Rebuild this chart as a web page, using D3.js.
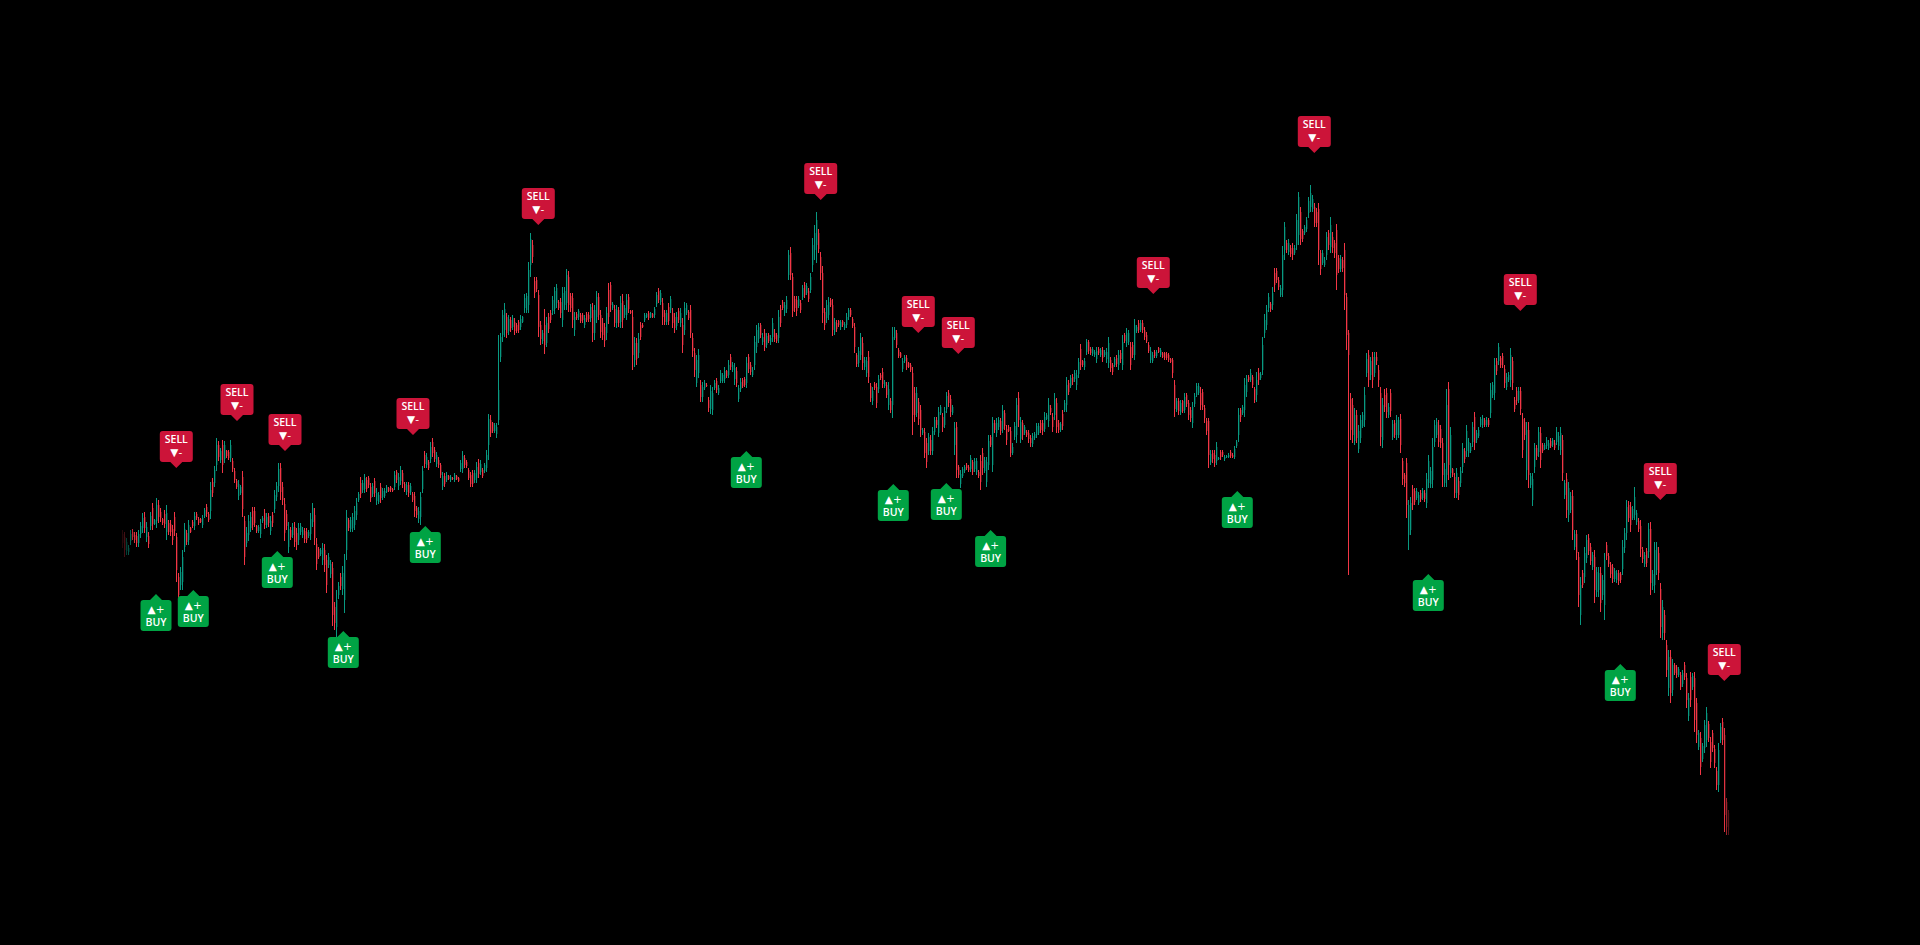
<!DOCTYPE html>
<html><head><meta charset="utf-8">
<style>html,body{margin:0;background:#000;overflow:hidden}svg{display:block}</style>
<script src="https://cdn.jsdelivr.net/npm/d3@7"></script>
</head><body>
<script>
// each row: [high, low, open, close]
const barsA=[[415,397,411,402],[413,388,408,395],[407,390,394,403],[400,390,393,397],[415,400,404,411],[416,405,413,408],[413,402,410,405],[413,398,409,402],[415,398,402,411],[423,407,411,419],
[432,412,417,427],[433,412,428,417],[423,403,408,418],[413,397,409,401],[433,415,419,429],[442,415,437,421],[426,420,421,425],[447,417,424,440],[445,422,440,428],[437,423,433,427],
[427,420,426,422],[435,417,431,421],[440,405,413,432],[425,410,422,413],[425,409,421,413],[420,400,416,405],[433,409,428,414],[412,363,408,375],[372,344,368,350],[378,355,360,373],
[395,355,363,388],[422,393,398,416],[415,400,412,403],[425,400,405,420],[418,412,417,413],[425,417,423,419],[433,415,419,429],[433,425,431,427],[428,420,426,422],[427,422,426,423],
[430,417,420,427],[437,427,429,435],[441,428,438,431],[433,423,431,425],[463,426,434,455],[467,448,463,452],[479,458,462,475],[507,474,480,500],[504,484,500,488],[497,482,485,494],
[505,472,500,480],[504,482,486,500],[495,487,494,489],[495,485,493,487],[505,483,487,500],[487,473,484,476],[477,462,474,465],[466,456,464,458],[465,445,449,461],[460,450,452,458],
[474,428,468,436],[429,380,424,388],[418,398,402,412],[430,404,410,424],[433,413,417,428],[438,415,434,420],[438,418,434,422],[420,412,419,414],[420,412,414,418],[426,407,411,421],
[429,422,424,427],[436,416,432,420],[432,417,420,428],[432,418,429,422],[429,410,414,424],[433,418,430,422],[455,432,436,450],[463,444,448,459],[482,453,459,476],[482,445,477,453],
[463,440,458,445],[447,404,441,412],[435,415,431,419],[423,392,398,416],[418,405,415,408],[422,407,410,418],[423,398,418,403],[417,395,412,400],[422,400,405,417],[422,410,413,419],
[418,407,410,415],[417,402,414,406],[417,402,413,405],[415,407,409,413],[432,405,411,426],[442,418,423,437],[437,400,430,407],[407,375,401,381],[398,386,396,388],[397,389,391,395]];
const barsB=[[402,380,385,397],[401,373,395,380],[390,352,385,360],[392,377,380,388],[385,367,371,381],[383,319,377,330],[343,315,338,322],[355,308,318,345],[363,346,350,359],[372,355,368,359],
[379,350,356,372],[391,332,345,385],[435,385,395,428],[427,414,425,417],[428,413,416,425],[432,413,417,428],[439,415,420,434],[447,425,430,442],[453,443,445,451],[468,447,462,451],
[465,452,455,462],[471,452,456,467],[468,453,465,456],[469,457,467,460],[462,443,458,447],[462,448,451,459],[467,448,464,452],[457,440,444,452],[453,441,443,450],[462,442,458,447],
[457,445,448,454],[457,447,449,454],[460,452,453,458],[458,453,457,454],[459,453,458,455],[457,453,456,454],[474,455,458,470],[475,462,473,465],[472,455,459,468],[479,460,464,475],
[475,457,472,461],[463,453,461,455],[463,450,453,460],[463,448,460,452],[462,450,453,459],[453,443,451,445],[453,428,449,434],[439,427,437,430],[438,422,426,434],[453,420,428,448],
[479,452,456,474],[494,477,490,481],[492,477,480,488],[485,475,483,477],[503,482,486,498],[507,488,503,492],[498,483,495,486],[493,478,481,490],[488,477,485,480],[482,467,480,470],
[473,455,459,469],[472,458,469,461],[473,463,465,470],[470,465,469,466],[470,463,465,468],[468,465,467,466],[472,463,465,470],[470,465,469,466],[468,463,467,464],[485,473,476,482],
[494,472,476,489],[490,477,487,480],[485,477,483,479],[477,465,475,467],[473,458,470,461],[475,458,472,461],[475,462,465,472],[483,462,467,478],[486,467,482,471],[485,470,473,481],
[477,467,475,469],[482,472,474,480],[495,473,477,490],[531,485,500,526],[530,508,525,512],[523,512,522,514],[522,512,514,520],[522,507,511,518],[610,520,525,555],[612,583,588,608],
[635,603,610,630],[642,608,615,636],[632,607,628,612],[630,610,614,626],[628,613,625,617],[630,615,618,627],[627,610,623,614],[622,612,620,614],[625,612,623,615],[630,615,618,626]];
const barsC=[[629,622,623,628],[651,632,637,647],[652,632,635,649],[683,632,640,675],[712,668,680,706],[705,682,700,688],[668,647,664,652],[668,653,665,656],[655,608,650,618],[624,600,620,606],
[615,601,604,612],[636,591,620,600],[628,598,602,622],[632,612,628,616],[635,622,632,625],[649,630,634,645],[658,631,636,654],[661,637,642,657],[645,635,643,637],[647,627,643,632],
[658,618,625,652],[658,635,640,654],[676,635,642,670],[674,633,668,640],[652,633,649,637],[652,617,647,625],[633,609,615,628],[633,625,631,627],[636,625,628,634],[632,622,630,624],
[632,622,630,625],[630,617,620,627],[633,623,631,625],[633,623,630,626],[641,623,627,638],[642,603,635,612],[640,605,612,635],[654,622,628,648],[652,625,648,630],[635,607,630,613],
[627,605,622,610],[622,598,618,604],[638,605,612,632],[662,621,655,628],[663,633,660,640],[643,635,637,641],[640,618,636,622],[640,617,622,635],[638,618,635,622],[649,617,623,642],
[651,617,644,625],[640,627,630,637],[651,625,630,645],[651,632,648,636],[635,631,634,632],[635,575,628,590],[608,578,585,602],[607,580,602,586],[612,587,592,606],[623,605,620,608],
[622,617,620,618],[632,623,625,630],[632,627,628,631],[634,625,632,627],[633,627,628,632],[632,627,631,628],[638,627,630,636],[653,638,641,650],[657,642,654,645],[655,640,643,652],
[647,620,642,628],[635,620,632,623],[635,620,623,632],[642,620,638,624],[649,632,635,646],[637,617,632,622],[632,612,628,617],[633,615,619,628],[637,622,634,625],[637,618,622,632],
[627,592,620,600],[643,610,615,637],[642,630,632,640],[635,625,633,627],[640,607,635,612],[612,588,607,594],[597,568,592,575],[590,558,562,585],[596,567,572,590],[565,543,560,548],
[563,543,548,558],[565,555,557,562],[562,558,560,559],[548,533,545,537],[560,531,536,554],[558,530,535,552],[565,555,557,562],[567,552,564,555],[560,550,552,557],[575,562,564,572]];
const barsD=[[572,562,564,570],[578,562,566,574],[575,567,574,569],[585,567,570,580],[591,575,588,578],[583,573,575,580],[582,560,566,577],[578,558,574,562],[560,543,546,557],[567,553,556,563],
[567,557,565,559],[568,558,566,560],[588,557,562,582],[591,572,588,576],[583,570,580,573],[578,568,570,575],[609,575,580,603],[620,592,598,615],[622,602,606,618],[622,607,620,610],
[612,600,603,608],[616,594,612,598],[612,597,600,609],[612,602,610,604],[610,600,603,607],[627,603,608,622],[616,603,612,606],[612,602,610,604],[635,602,607,628],[640,618,636,622],
[645,635,643,637],[643,629,632,640],[649,632,636,645],[695,665,670,690],[698,665,692,670],[672,628,668,634],[649,633,646,637],[649,629,645,634],[649,637,639,646],[645,632,642,635],
[660,645,648,657],[663,647,660,650],[662,650,652,659],[657,643,654,646],[672,652,655,668],[707,673,680,700],[720,685,695,712],[733,682,700,725],[716,692,712,696],[693,665,688,672],
[679,622,672,632],[637,615,633,620],[645,622,627,640],[648,625,630,643],[647,638,645,640],[646,609,640,615],[627,610,613,623],[625,613,622,616],[625,618,624,620],[625,615,618,623],
[625,618,624,620],[623,615,617,621],[632,617,620,628],[637,625,628,635],[637,628,635,630],[628,617,626,619],[622,592,618,598],[592,578,590,581],[598,578,582,594],[612,585,590,607],
[608,575,602,582],[588,575,578,585],[588,568,572,584],[594,562,588,568],[562,543,559,547],[558,540,544,554],[563,555,561,557],[562,537,558,542],[570,552,556,566],[572,565,570,567],
[577,557,573,561],[565,557,559,563],[563,547,560,550],[563,535,540,556],[547,532,544,535],[618,527,540,608],[618,605,607,615],[615,597,612,600],[597,587,595,589],[593,587,592,588],
[587,573,576,584],[590,582,584,588],[590,575,587,578],[583,577,582,578],[582,573,580,575],[578,510,572,530],[558,523,552,530],[558,528,532,552],[547,520,543,526],[540,508,535,515]];
const barsE=[[517,510,512,515],[517,487,513,492],[507,477,502,483],[512,490,494,508],[510,490,505,494],[518,490,494,514],[528,510,513,525],[528,517,525,520],[538,508,512,533],[540,530,532,538],
[532,513,528,518],[538,517,520,534],[553,532,536,549],[555,538,552,542],[550,528,546,533],[540,530,532,538],[523,490,500,517],[523,467,518,475],[480,467,478,470],[475,457,461,471],
[478,467,469,476],[480,472,474,478],[482,475,480,477],[480,473,478,475],[490,473,476,487],[485,470,483,473],[487,473,476,484],[487,470,473,484],[475,467,473,469],[490,455,484,463],
[497,470,492,477],[488,472,474,485],[488,458,463,483],[510,475,480,504],[510,498,508,500],[528,473,480,522],[525,512,522,515],[527,508,512,522],[528,515,518,525],[527,510,524,514],
[540,512,516,534],[535,515,532,519],[520,500,516,505],[520,513,518,514],[518,488,514,492],[502,490,492,498],[523,505,508,519],[547,502,510,540],[553,518,547,525],[528,502,506,523],
[525,505,522,510],[520,510,512,518],[515,508,513,510],[515,502,512,506],[510,498,507,502],[512,498,501,509],[513,505,507,511],[522,507,510,519],[522,510,512,519],[525,512,522,515],
[525,510,522,514],[533,513,516,528],[532,525,526,530],[547,518,524,540],[540,530,537,533],[532,513,528,518],[552,525,530,546],[547,512,542,518],[525,512,522,515],[523,513,515,521],
[535,515,531,519],[545,533,535,542],[568,533,540,560],[565,550,562,553],[570,557,559,567],[571,560,568,563],[575,563,566,572],[575,555,560,570],[587,567,571,583],[601,575,596,580],
[585,578,584,580],[587,575,578,584],[606,590,593,603],[605,591,603,594],[598,590,596,592],[598,589,591,596],[595,588,590,593],[598,582,586,594],[598,590,596,592],[597,588,590,595],
[598,583,595,587],[595,588,590,593],[597,582,586,593],[608,577,582,602],[588,573,585,577],[582,570,580,573],[588,578,580,586],[590,578,587,581],[595,575,580,590],[595,582,592,586]];
const barsF=[[610,575,580,603],[612,602,610,604],[617,598,602,612],[615,600,603,612],[603,575,598,580],[603,587,600,590],[626,585,590,620],[620,612,614,618],[625,612,622,615],[625,613,615,622],
[625,612,622,615],[618,605,615,608],[613,602,610,604],[603,592,600,594],[598,582,585,594],[593,582,584,590],[595,587,593,589],[595,587,589,593],[598,592,597,593],[597,588,590,595],
[593,587,592,588],[593,585,592,587],[593,585,591,587],[592,583,590,585],[587,582,586,583],[587,567,585,572],[565,528,560,536],[547,533,535,544],[547,530,544,534],[545,530,533,542],
[545,532,544,534],[552,532,535,548],[552,538,550,541],[545,525,542,530],[538,523,535,527],[543,517,522,538],[552,538,541,549],[562,548,550,559],[562,550,552,559],[558,535,552,540],
[556,535,553,538],[540,522,537,527],[527,510,524,514],[527,477,524,490],[495,480,483,491],[495,482,492,486],[495,478,490,482],[503,480,484,498],[488,485,486,487],[495,485,493,488],
[495,488,493,490],[490,484,486,488],[490,487,488,489],[492,487,488,490],[495,487,493,489],[492,487,490,488],[499,486,488,496],[505,497,499,503],[537,503,510,530],[537,523,535,528],
[540,530,532,538],[567,528,535,560],[570,548,553,566],[570,563,568,565],[576,563,565,572],[570,557,568,560],[558,542,556,545],[573,543,550,565],[577,560,572,565],[573,565,567,571],
[608,570,575,600],[631,607,612,625],[640,615,620,635],[652,633,637,648],[643,633,641,636],[658,635,640,652],[677,653,672,660],[677,662,674,665],[668,655,665,658],[660,648,650,657],
[699,648,655,690],[723,685,695,718],[705,692,702,695],[706,690,693,702],[700,688,697,691],[702,685,697,690],[700,690,692,697],[731,695,700,725],[753,700,710,748],[738,700,733,706],
[716,703,714,706],[720,710,712,718],[728,713,716,725],[748,727,732,744],[760,733,738,752],[750,733,736,746],[742,718,738,722],[737,718,733,722],[742,680,736,695],[695,670,692,676]];
const barsG=[[695,680,682,692],[688,678,680,685],[713,685,690,708],[715,695,712,700],[728,692,698,720],[713,692,708,697],[705,687,702,692],[721,655,715,670],[690,672,687,676],[690,673,676,686],
[688,673,685,677],[702,635,695,650],[652,595,648,610],[615,370,612,590],[552,505,546,515],[547,502,540,510],[537,500,504,530],[535,502,530,507],[520,492,496,514],[530,502,507,525],
[533,517,519,530],[558,518,525,550],[592,568,572,586],[595,558,590,565],[588,565,570,584],[593,557,588,565],[593,568,572,588],[593,580,588,584],[580,558,575,565],[558,499,552,508],
[547,497,505,540],[556,533,550,538],[557,527,552,533],[542,527,530,538],[556,528,552,534],[525,505,508,521],[525,507,522,510],[530,505,510,525],[528,507,510,525],[531,492,526,500],
[487,460,484,466],[472,458,470,462],[487,427,482,440],[445,395,410,440],[448,410,415,442],[460,435,456,440],[457,440,454,443],[457,445,447,454],[453,440,442,450],[455,443,452,446],
[457,445,447,454],[455,443,452,446],[472,437,442,466],[490,457,462,484],[478,457,461,474],[507,457,465,498],[525,498,503,520],[527,507,510,523],[525,498,520,503],[520,497,516,502],
[507,458,502,470],[482,458,462,476],[556,458,470,540],[563,465,556,480],[518,467,472,510],[477,468,476,470],[472,447,468,452],[477,447,452,472],[468,445,464,450],[478,458,462,474],
[502,472,478,496],[497,482,494,486],[520,488,494,514],[507,488,492,503],[502,492,494,499],[523,498,503,518],[533,495,528,502],[515,502,505,512],[518,507,509,515],[528,518,520,526],
[530,517,520,527],[527,518,525,520],[528,518,520,525],[527,518,525,520],[562,527,532,555],[563,547,550,560],[587,545,552,580],[587,570,584,574],[602,580,584,598],[589,577,587,580],
[592,577,589,580],[580,557,576,562],[572,555,558,568],[573,563,565,570],[597,558,565,590],[588,555,584,562],[548,533,545,536],[558,540,554,544],[558,542,545,554],[558,530,554,536]];
const barsH=[[532,487,526,495],[527,505,523,510],[523,465,475,515],[523,457,515,470],[472,457,460,469],[472,439,445,466],[502,472,478,497],[500,485,497,489],[518,488,493,513],[518,477,512,485],
[502,492,500,494],[502,495,496,500],[508,496,499,505],[505,495,497,502],[507,497,504,499],[507,498,500,505],[505,495,502,497],[518,500,503,513],[513,495,499,509],[518,490,495,512],
[510,464,505,472],[465,446,450,462],[472,427,466,435],[463,423,430,457],[453,432,435,449],[455,405,449,415],[415,395,398,411],[415,385,411,392],[393,338,388,350],[368,320,330,360],
[375,357,372,360],[398,362,368,392],[410,382,387,405],[411,390,407,394],[402,380,398,384],[393,375,378,390],[395,342,388,355],[378,348,353,373],[378,348,355,372],[378,333,372,342],
[370,345,350,365],[392,325,340,385],[403,385,400,389],[392,378,389,381],[383,367,380,371],[381,362,378,366],[377,363,366,374],[375,362,365,372],[375,360,372,364],[373,362,371,365],
[405,370,376,398],[417,392,397,412],[445,405,412,438],[444,423,440,427],[443,413,438,420],[439,425,427,436],[458,425,430,448],[435,420,423,432],[427,413,424,416],[425,388,419,396],
[398,382,395,386],[393,378,381,390],[397,378,394,382],[422,387,393,416],[423,350,416,362],[375,355,359,371],[403,352,360,395],[403,370,375,398],[398,365,392,372],[362,307,356,318],
[345,305,312,338],[335,305,330,312],[305,268,300,275],[295,249,257,288],[295,242,288,252],[286,249,255,280],[282,270,280,272],[280,267,278,270],[278,268,270,276],[273,255,270,258],
[275,258,261,272],[283,265,280,268],[272,237,267,245],[252,224,229,247],[273,238,268,245],[272,255,258,269],[273,213,267,225],[247,202,242,210],[215,195,198,212],[213,170,207,178],
[202,183,186,199],[225,192,197,220],[238,198,205,232],[224,203,221,207],[208,177,203,183],[215,193,212,197],[200,177,196,182],[178,155,174,160],[202,153,160,195],[222,202,205,218],
[227,200,223,205],[217,113,210,130],[147,110,143,118],[135,110,132,115]];

const sellBars=[27.15,57.5,81.5,145.5,208.15,349.35,398.15,418.15,515.65,596.15,699.15,769.15,801.15];
const sellPrices=[477,524,494,510,720,745,612,591,651,792,634,445,264];
const buyBars=[17,35.65,77.65,110.65,151.65,312.15,385.65,412.15,434.3,557.65,653.15,749.15];
const buyPrices=[351,355,394,314,419,494,461,462,415,454,371,281];

const candles=[...barsA,...barsB,...barsC,...barsD,...barsE,...barsF,...barsG,...barsH];
const W=1920,H=945,UP="#089981",DOWN="#f23645",SELL="#cc1439",BUY="#00a344";
const svg=d3.select("body").append("svg").attr("width",W).attr("height",H).style("background","#000");
const x=d3.scaleLinear().domain([0,803]).range([122,1728]);
const y=d3.scaleLinear().domain([0,945]).range([945,0]);
const col=d=>d[3]>=d[2]?UP:DOWN;
const px=i=>Math.round(x(i));

const g=svg.append("g");
g.selectAll("line.wick").data(candles).join("line").attr("class","wick")
 .attr("x1",(d,i)=>px(i)+.5).attr("x2",(d,i)=>px(i)+.5)
 .attr("y1",d=>y(d[0])).attr("y2",d=>y(d[1]))
 .attr("stroke",col).attr("stroke-width",1);
g.selectAll("rect.body").data(candles).join("rect").attr("class","body")
 .attr("x",(d,i)=>px(i)).attr("width",1.3)
 .attr("y",d=>y(Math.max(d[2],d[3]))).attr("height",d=>Math.abs(d[2]-d[3]))
 .attr("fill",col);

const defs=svg.append("defs");
const lg=defs.append("linearGradient").attr("id","fadeL");
lg.append("stop").attr("offset",0).attr("stop-color","#000").attr("stop-opacity",1);
lg.append("stop").attr("offset",1).attr("stop-color","#000").attr("stop-opacity",0);
const rg=defs.append("linearGradient").attr("id","fadeR");
rg.append("stop").attr("offset",0).attr("stop-color","#000").attr("stop-opacity",0);
rg.append("stop").attr("offset",1).attr("stop-color","#000").attr("stop-opacity",.85);
svg.append("rect").attr("x",120).attr("y",0).attr("width",16).attr("height",H).attr("fill","url(#fadeL)");
svg.append("rect").attr("x",1724).attr("y",0).attr("width",6).attr("height",H).attr("fill","url(#fadeR)");

function sellShape(cx,tip){const w=16.5,h=31,p=6,r=3,b=tip-p,t=b-h,q=d3.path();
 q.moveTo(cx-w+r,t);q.lineTo(cx+w-r,t);q.quadraticCurveTo(cx+w,t,cx+w,t+r);q.lineTo(cx+w,b-r);q.quadraticCurveTo(cx+w,b,cx+w-r,b);
 q.lineTo(cx+p,b);q.lineTo(cx,tip);q.lineTo(cx-p,b);q.lineTo(cx-w+r,b);q.quadraticCurveTo(cx-w,b,cx-w,b-r);q.lineTo(cx-w,t+r);q.quadraticCurveTo(cx-w,t,cx-w+r,t);q.closePath();return q.toString();}
function buyShape(cx,tip){const w=15.5,h=31,p=6,r=3,t=tip+p,b=t+h,q=d3.path();
 q.moveTo(cx-w+r,t);q.lineTo(cx-p,t);q.lineTo(cx,tip);q.lineTo(cx+p,t);q.lineTo(cx+w-r,t);q.quadraticCurveTo(cx+w,t,cx+w,t+r);q.lineTo(cx+w,b-r);q.quadraticCurveTo(cx+w,b,cx+w-r,b);
 q.lineTo(cx-w+r,b);q.quadraticCurveTo(cx-w,b,cx-w,b-r);q.lineTo(cx-w,t+r);q.quadraticCurveTo(cx-w,t,cx-w+r,t);q.closePath();return q.toString();}

const txt=(sel,tx,ty,s)=>sel.append("text").attr("x",tx).attr("y",ty).attr("text-anchor","middle")
 .attr("fill","#fff").attr("font-family","'Open Sans',sans-serif").attr("font-weight",600).attr("font-size",10.5).text(s);
const sym=(sel,tx,ty,s)=>sel.append("text").attr("x",tx).attr("y",ty).attr("text-anchor","middle")
 .attr("fill","#fff").attr("font-family","'DejaVu Sans',sans-serif").attr("font-size",10.5).text(s);
const sl=svg.append("g"),bl=svg.append("g");
sellBars.forEach((b,i)=>{const cx=x(b),tip=y(sellPrices[i]),top=tip-37;
 sl.append("path").attr("d",sellShape(cx,tip)).attr("fill",SELL);
 txt(sl,cx,top+11.5,"SELL");sym(sl,cx,top+24.5,"▼-");});
buyBars.forEach((b,i)=>{const cx=x(b),tip=y(buyPrices[i]),top=tip+6;
 bl.append("path").attr("d",buyShape(cx,tip)).attr("fill",BUY);
 sym(bl,cx,top+12.5,"▲+");txt(bl,cx,top+25.5,"BUY");});
</script>
</body></html>
